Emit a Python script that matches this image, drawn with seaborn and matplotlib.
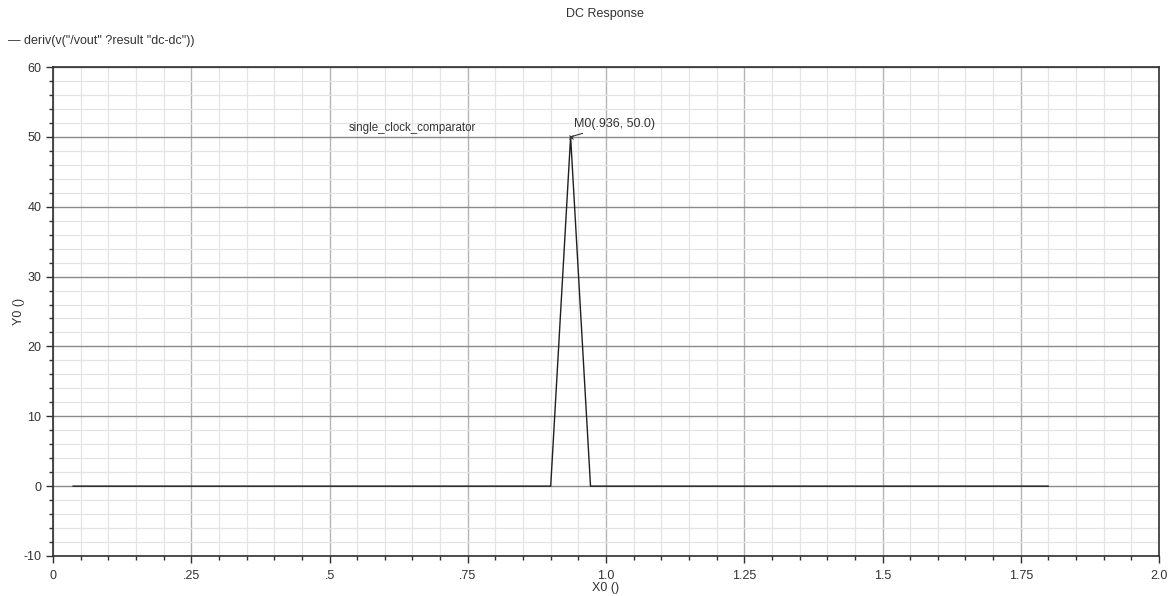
import numpy as np
import pandas as pd
import seaborn as sns
import matplotlib.pyplot as plt
from matplotlib.ticker import MultipleLocator

# Trace points
x_vals = [0.036, 0.9, 0.936, 0.972, 1.8]
y_vals = [0.0, 0.0, 50.0, 0.0, 0.0]

x_ticks = [0, 0.25, 0.5, 0.75, 1.0, 1.25, 1.5, 1.75, 2.0]
x_ticklabels = ['0', '.25', '.5', '.75', '1.0', '1.25', '1.5', '1.75', '2.0']
y_ticks = [-10, 0, 10, 20, 30, 40, 50, 60]
y_ticklabels = ['-10', '0', '10', '20', '30', '40', '50', '60']

marker_x = 0.936
marker_y = 50.0

df = pd.DataFrame({'X0': x_vals, 'Y0': y_vals})

sns.set_theme(style='white')
plt.rcParams['font.family'] = ['Liberation Sans', 'DejaVu Sans']

fig = plt.figure(figsize=(11.74, 5.96), dpi=100)
ax = fig.add_axes([53 / 1174, 1 - 556 / 596, (1159 - 53) / 1174, (556 - 67) / 596])

ax.set_xlim(0, 2.0)
ax.set_ylim(-10, 60)

# grid: minor light, major darker
ax.xaxis.set_minor_locator(MultipleLocator(0.05))
ax.yaxis.set_minor_locator(MultipleLocator(2))
ax.grid(which='minor', color='#e4e4e4', linewidth=0.9)
ax.grid(which='major', axis='x', color='#b4b4b4', linewidth=1.0)
ax.grid(which='major', axis='y', color='#8a8a8a', linewidth=1.0)
ax.set_axisbelow(True)

sns.lineplot(data=df, x='X0', y='Y0', color='#202020', linewidth=1.0, ax=ax)

ax.set_xticks(x_ticks)
ax.set_xticklabels(x_ticklabels)
ax.set_yticks(y_ticks)
ax.set_yticklabels(y_ticklabels)
ax.tick_params(which='both', direction='out', color='#303030', labelsize=9,
               labelcolor='#333333', bottom=True, left=True)
ax.tick_params(which='major', length=5, width=1)
ax.tick_params(axis='x', which='major', pad=5)
ax.tick_params(which='minor', length=3, width=1)

for side in ['left', 'top', 'right', 'bottom']:
    ax.spines[side].set_visible(True)
    ax.spines[side].set_color('#303030')
    ax.spines[side].set_linewidth(1.2)

ax.set_xlabel('X0 ()', fontsize=9, color='#333333', labelpad=0)
ax.set_ylabel('Y0 ()', fontsize=9, color='#333333', labelpad=-1)

# marker annotation
ax.annotate('M0(.936, 50.0)', xy=(marker_x, marker_y), xytext=(marker_x + 0.006, marker_y + 1.4),
            fontsize=9, color='#333333',
            arrowprops=dict(arrowstyle='-', color='#333333', lw=0.8, shrinkA=0, shrinkB=0))
ax.plot([marker_x], [marker_y], marker='x', color='#333333', markersize=3, mew=0.8)

ax.text(0.535, 50.9, 'single_clock_comparator', fontsize=8.3, color='#333333')

fig.text(605 / 1174, 1 - 14 / 596, 'DC Response', ha='center', va='center',
         fontsize=9, color='#333333')
fig.text(8 / 1174, 1 - 41 / 596, '\u2014 deriv(v("/vout" ?result "dc-dc"))',
         ha='left', va='center', fontsize=9, color='#333333')

fig.savefig('out.png', dpi=100, facecolor='white')
